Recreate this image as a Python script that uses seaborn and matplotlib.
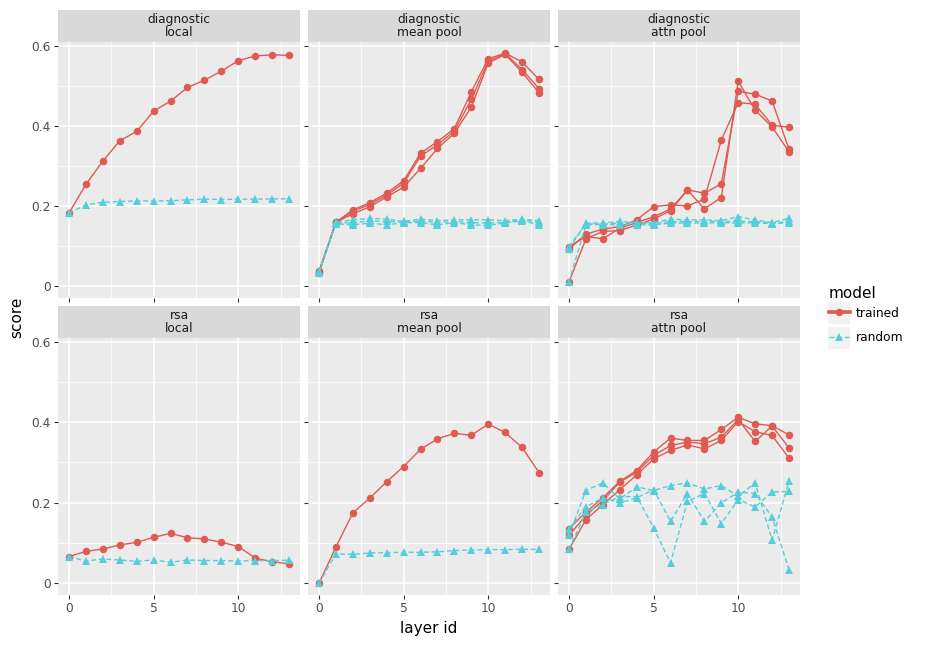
import numpy as np
import pandas as pd
import matplotlib
matplotlib.use("Agg")
import matplotlib.pyplot as plt
from matplotlib.lines import Line2D
from matplotlib.patches import Rectangle
import seaborn as sns

layers = list(range(14))
probes = ["diagnostic", "rsa"]
pools = ["local", "mean pool", "attn pool"]
models = ["trained", "random"]

# diagnostic / local
diag_local_trained = [0.182, 0.254, 0.3125, 0.363, 0.387, 0.4375, 0.463, 0.497, 0.515, 0.538, 0.564, 0.576, 0.579, 0.5775]
diag_local_random = [0.182, 0.2025, 0.209, 0.211, 0.2125, 0.2125, 0.213, 0.215, 0.217, 0.216, 0.217, 0.217, 0.2175, 0.218]

# diagnostic / mean pool (3 runs each)
diag_mean_trained = [
    [0.035, 0.159, 0.190, 0.208, 0.232, 0.263, 0.332, 0.361, 0.394, 0.486, 0.569, 0.583, 0.561, 0.517],
    [0.032, 0.159, 0.186, 0.204, 0.227, 0.257, 0.325, 0.353, 0.388, 0.467, 0.563, 0.582, 0.542, 0.494],
    [0.036, 0.159, 0.180, 0.198, 0.2225, 0.247, 0.294, 0.344, 0.382, 0.448, 0.558, 0.580, 0.535, 0.484],
]
diag_mean_random = [
    [0.035, 0.159, 0.165, 0.169, 0.1667, 0.161, 0.167, 0.163, 0.165, 0.165, 0.165, 0.163, 0.1667, 0.163],
    [0.032, 0.157, 0.158, 0.1625, 0.161, 0.159, 0.1625, 0.158, 0.161, 0.158, 0.157, 0.159, 0.165, 0.158],
    [0.036, 0.155, 0.1525, 0.157, 0.1525, 0.158, 0.158, 0.1525, 0.158, 0.1525, 0.151, 0.157, 0.1625, 0.1525],
]

# diagnostic / attn pool
diag_attn_trained = [
    [0.092, 0.129, 0.142, 0.148, 0.165, 0.198, 0.2025, 0.200, 0.217, 0.365, 0.459, 0.455, 0.4025, 0.397],
    [0.098, 0.123, 0.1175, 0.144, 0.158, 0.173, 0.192, 0.240, 0.232, 0.255, 0.4875, 0.480, 0.4633, 0.342],
    [0.009, 0.1175, 0.136, 0.138, 0.152, 0.167, 0.188, 0.240, 0.1925, 0.221, 0.5125, 0.440, 0.398, 0.336],
]
diag_attn_random = [
    [0.092, 0.157, 0.157, 0.161, 0.158, 0.158, 0.1667, 0.165, 0.165, 0.163, 0.173, 0.165, 0.158, 0.169],
    [0.098, 0.155, 0.154, 0.157, 0.157, 0.155, 0.161, 0.161, 0.161, 0.161, 0.161, 0.161, 0.157, 0.161],
    [0.009, 0.153, 0.1525, 0.1525, 0.1525, 0.1525, 0.157, 0.157, 0.157, 0.158, 0.157, 0.158, 0.155, 0.158],
]

# rsa / local
rsa_local_trained = [0.065, 0.078, 0.084, 0.094, 0.1006, 0.113, 0.123, 0.112, 0.109, 0.101, 0.090, 0.0615, 0.052, 0.047]
rsa_local_random = [0.065, 0.054, 0.059, 0.0565, 0.053, 0.0565, 0.0507, 0.0565, 0.055, 0.055, 0.054, 0.055, 0.055, 0.0557]

# rsa / mean pool
rsa_mean_trained = [-0.002, 0.089, 0.174, 0.211, 0.252, 0.290, 0.333, 0.359, 0.373, 0.368, 0.396, 0.375, 0.3375, 0.275]
rsa_mean_random = [-0.002, 0.072, 0.0706, 0.074, 0.075, 0.0756, 0.0756, 0.077, 0.080, 0.0815, 0.0823, 0.0823, 0.083, 0.083]

# rsa / attn pool
rsa_attn_trained = [
    [0.135, 0.176, 0.212, 0.253, 0.280, 0.326, 0.361, 0.355, 0.355, 0.3825, 0.413, 0.3965, 0.392, 0.369],
    [0.118, 0.168, 0.205, 0.251, 0.276, 0.3175, 0.3425, 0.351, 0.347, 0.363, 0.4075, 0.3525, 0.391, 0.3367],
    [0.083, 0.157, 0.195, 0.232, 0.269, 0.309, 0.330, 0.344, 0.334, 0.355, 0.402, 0.377, 0.3675, 0.311],
]
rsa_attn_random = [
    [0.118, 0.230, 0.249, 0.209, 0.239, 0.230, 0.2425, 0.249, 0.234, 0.2425, 0.216, 0.249, 0.106, 0.253],
    [0.135, 0.189, 0.212, 0.199, 0.212, 0.232, 0.153, 0.2225, 0.153, 0.199, 0.226, 0.2225, 0.164, 0.0325],
    [0.083, 0.176, 0.195, 0.215, 0.215, 0.137, 0.049, 0.203, 0.2225, 0.1475, 0.2075, 0.189, 0.226, 0.228],
]

series = {
    ("diagnostic", "local"): ([diag_local_trained], [diag_local_random]),
    ("diagnostic", "mean pool"): (diag_mean_trained, diag_mean_random),
    ("diagnostic", "attn pool"): (diag_attn_trained, diag_attn_random),
    ("rsa", "local"): ([rsa_local_trained], [rsa_local_random]),
    ("rsa", "mean pool"): ([rsa_mean_trained], [rsa_mean_random]),
    ("rsa", "attn pool"): (rsa_attn_trained, rsa_attn_random),
}

rows = []
for (probe, pool), (tr, rn) in series.items():
    for model, runs in (("trained", tr), ("random", rn)):
        for r, vals in enumerate(runs):
            for l, v in zip(layers, vals):
                rows.append(dict(probe=probe, pool=pool, model=model, run=r, layer=l, score=v))
df = pd.DataFrame(rows)

RED = "#DF5A50"
CYAN = "#52CFDA"
palette = {"trained": RED, "random": CYAN}

W, H = 929, 647
fig = plt.figure(figsize=(W / 100, H / 100), dpi=100)
plt.rcParams["font.family"] = ["DejaVu Sans"]

col_left = [58, 308, 558]
pw = 242
row_top = [42, 338]
row_bot = [298, 595]
strip_h = 32

def fx(px):
    return px / W

def fy(py):
    return 1 - py / H

for i, probe in enumerate(probes):
    for j, pool in enumerate(pools):
        l = col_left[j]
        t, b = row_top[i], row_bot[i]
        ax = fig.add_axes([fx(l), fy(b), pw / W, (b - t) / H])
        ax.set_facecolor("#EBEBEB")
        sub = df[(df.probe == probe) & (df.pool == pool)]
        for model in ["trained", "random"]:
            s = sub[sub.model == model]
            sns.lineplot(
                data=s, x="layer", y="score", units="run", estimator=None,
                color=palette[model], ax=ax, legend=False,
                marker="o" if model == "trained" else "^",
                markersize=5.4, markeredgewidth=0,
                linestyle="-" if model == "trained" else (0, (3.5, 2)),
                linewidth=1.0,
                sort=True,
            )
        ax.set_xlim(-0.65, 13.65)
        ax.set_ylim(-0.031, 0.611)
        ax.set_xticks([0, 5, 10])
        ax.set_xticks([2.5, 7.5, 12.5], minor=True)
        ax.set_yticks([0, 0.2, 0.4, 0.6])
        ax.set_yticks([0.1, 0.3, 0.5], minor=True)
        ax.grid(which="major", color="white", linewidth=1.1)
        ax.grid(which="minor", color="white", linewidth=0.55)
        ax.set_axisbelow(True)
        for sp in ax.spines.values():
            sp.set_visible(False)
        ax.tick_params(which="major", length=3, width=0.8, color="#333333",
                       labelsize=8.8, labelcolor="#4D4D4D", pad=2)
        ax.tick_params(which="minor", length=0)
        ax.set_xlabel("")
        ax.set_ylabel("")
        ax.set_yticklabels(["0", "0.2", "0.4", "0.6"])
        if j != 0:
            ax.tick_params(axis="y", labelleft=False)
        if i != 1:
            ax.tick_params(axis="x", labelbottom=False)
        # strip
        sax = fig.add_axes([fx(l), fy(t), pw / W, strip_h / H])
        sax.set_facecolor("#D9D9D9")
        sax.set_xticks([])
        sax.set_yticks([])
        for sp in sax.spines.values():
            sp.set_visible(False)
        sax.text(0.5, 0.5, f"{probe}\n{pool}", ha="center", va="center",
                 fontsize=8.8, color="#1A1A1A", linespacing=1.0,
                 transform=sax.transAxes)

fig.text(fx(17), fy(317), "score", rotation=90, ha="center", va="center",
         fontsize=11, color="black")
fig.text(fx(429), fy(629), "layer id", ha="center", va="center",
         fontsize=11, color="black")

# legend
fig.text(fx(829), fy(293), "model", ha="left", va="center", fontsize=11, color="black")
for yc in (313, 338):
    fig.patches.append(Rectangle((fx(828), fy(yc + 11)), 22 / W, 22 / H,
                                 transform=fig.transFigure, facecolor="#F2F2F2",
                                 edgecolor="none", zorder=0))
handles = [
    Line2D([], [], color=RED, marker="o", markersize=5.4, markeredgewidth=0,
           linewidth=2.6, linestyle="-"),
    Line2D([], [], color=CYAN, marker="^", markersize=5.4, markeredgewidth=0,
           linewidth=1.0, linestyle=(0, (3.5, 2))),
]
leg = fig.legend(handles, ["trained", "random"],
                 loc="center left", bbox_to_anchor=(fx(829), fy(325.5)),
                 frameon=False, fontsize=8.8,
                 handlelength=1.7, handletextpad=0.5, labelspacing=0.95,
                 borderpad=0, borderaxespad=0)

fig.savefig("out.png", dpi=100)
